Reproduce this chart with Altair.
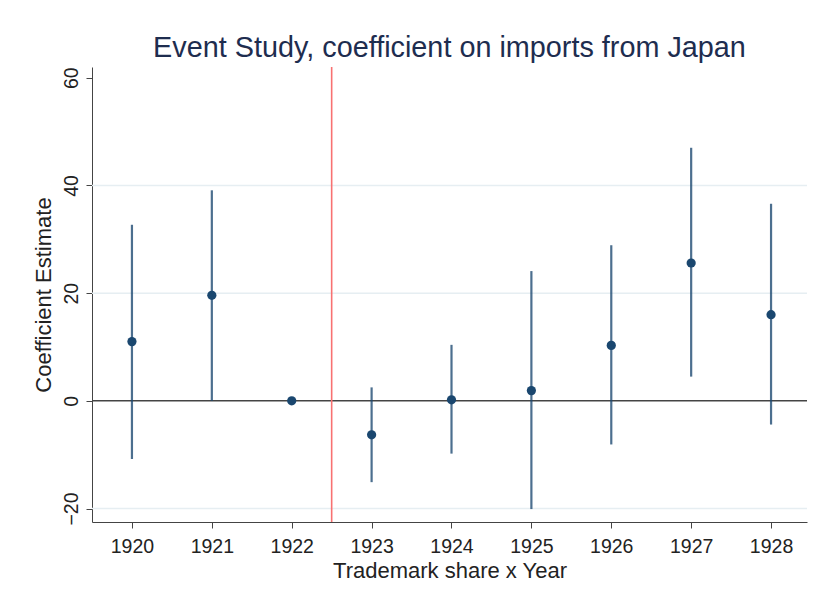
import altair as alt
import pandas as pd

years = [1920, 1921, 1922, 1923, 1924, 1925, 1926, 1927, 1928]
coef = [11.0, 19.6, 0.0, -6.3, 0.2, 1.9, 10.3, 25.6, 16.0]
ci_lo = [-10.8, 0.0, 0.0, -15.1, -9.8, -20.1, -8.1, 4.5, -4.4]
ci_hi = [32.7, 39.1, 0.0, 2.5, 10.4, 24.1, 28.9, 47.0, 36.6]
y_ticks = [-20, 0, 20, 40, 60]
grid_values = [-20, 20, 40]
event_line = 1922.5

df = pd.DataFrame({"year": years, "coef": coef, "lo": ci_lo, "hi": ci_hi})
df_ci = df[df["lo"] != df["hi"]]

FONT = "Liberation Sans"
NAVY = "#1a476f"

xscale = alt.Scale(domain=[1919.5, 1928.45], nice=False, zero=False)
yscale = alt.Scale(domain=[-22.5, 62], nice=False, zero=False)

xaxis = alt.Axis(values=years, format="d", title="Trademark share x Year",
                 grid=False, tickSize=6, domainColor="#444", tickColor="#444",
                 labelFontSize=19.5, titleFontSize=22, labelColor="#222",
                 titleColor="#222", titleFontWeight="normal", labelPadding=9,
                 titlePadding=5, labelFont=FONT, titleFont=FONT)
yaxis = alt.Axis(values=y_ticks, title="Coefficient Estimate", grid=False,
                 tickSize=6, domainColor="#444", tickColor="#444", labelAngle=270,
                 labelAlign="center", labelBaseline="bottom",
                 labelFontSize=19.5, titleFontSize=22, labelColor="#222",
                 titleColor="#222", titleFontWeight="normal", labelPadding=5,
                 titlePadding=6, labelFont=FONT, titleFont=FONT)

grid = alt.Chart(pd.DataFrame({"g": grid_values})).mark_rule(color="#e6eef2", strokeWidth=1.5).encode(
    y=alt.Y("g:Q", scale=yscale, axis=yaxis)
)

ci = alt.Chart(df_ci).mark_rule(color=NAVY, opacity=0.78, strokeWidth=2.2).encode(
    x=alt.X("year:Q", scale=xscale, axis=xaxis),
    y=alt.Y("lo:Q", scale=yscale, axis=yaxis),
    y2="hi:Q",
)

zero = alt.Chart(pd.DataFrame({"z": [0]})).mark_rule(color="#444", strokeWidth=1.5).encode(
    y=alt.Y("z:Q", scale=yscale, axis=yaxis)
)

vline = alt.Chart(pd.DataFrame({"v": [event_line]})).mark_rule(color="#f87171", strokeWidth=1.6).encode(
    x=alt.X("v:Q", scale=xscale, axis=xaxis)
)

pts = alt.Chart(df).mark_point(filled=True, shape="circle", size=85, color=NAVY, opacity=1).encode(
    x=alt.X("year:Q", scale=xscale, axis=xaxis),
    y=alt.Y("coef:Q", scale=yscale, axis=yaxis),
)

chart = alt.layer(grid, zero, ci, vline, pts, view=alt.ViewBackground(strokeWidth=0)).properties(
    width=715,
    height=455,
    autosize=alt.AutoSizeParams(type="none"),
    padding={"left": 84, "top": 59, "right": 2, "bottom": 60},
    title=alt.TitleParams("Event Study, coefficient on imports from Japan",
                          fontSize=28.8, font=FONT, color="#1e2d4f",
                          fontWeight="normal", anchor="middle", offset=3),
).configure_view(strokeWidth=0, stroke="transparent").configure(background="white")

chart.save("out.html", embed_options={"renderer": "svg", "actions": False})
